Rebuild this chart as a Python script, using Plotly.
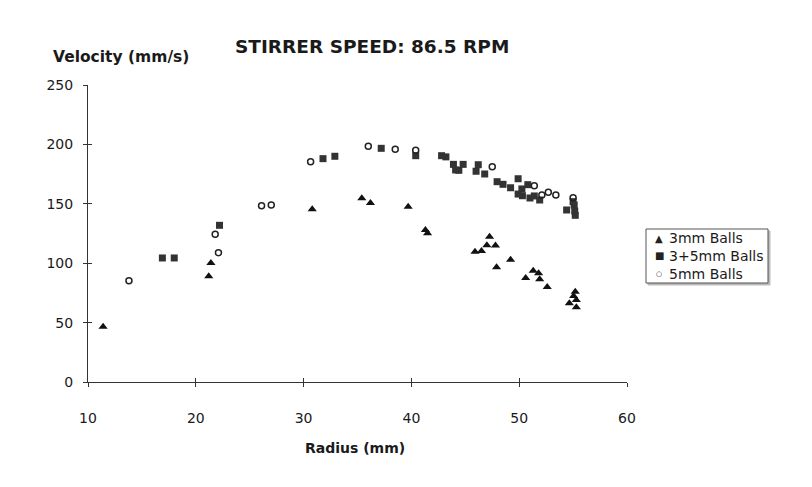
import plotly.graph_objects as go

# ---- data ----
tri_x = [11.4, 21.2, 21.4, 30.8, 35.4, 36.2, 39.7, 41.3, 41.5, 45.9, 46.5, 47.0, 47.25, 47.8,
         47.9, 49.2, 50.6, 51.3, 51.8, 51.9, 52.6, 54.65, 55.05, 55.2, 55.3, 55.3]
tri_y = [46.5, 89, 100.2, 145.4, 154.6, 150.7, 147.5, 128, 125.2, 109.7, 110.3, 115.2, 122.3, 114.9,
         96.5, 103, 87.5, 93.7, 91.5, 86.4, 80, 66.2, 72.4, 76, 69, 62.9]

sq_x = [16.9, 18.0, 22.2, 31.8, 32.9, 37.2, 40.4, 42.8, 43.2, 43.9, 44.1, 44.4, 44.8, 46.0,
        46.2, 46.8, 47.95, 48.5, 49.2, 49.9, 49.9, 50.25, 50.3, 50.8, 51.0, 51.4, 51.9, 54.4,
        55.0, 55.1, 55.15, 55.2]
sq_y = [104.4, 104.4, 131.9, 188, 190, 196.7, 190.5, 190.5, 189.5, 183.2, 178.5, 178.2, 183.2, 177.4,
        182.9, 175.1, 168.6, 166.4, 163.5, 171.1, 158.2, 162.5, 156.8, 166.1, 154.9, 156.6, 153.2, 144.8,
        151.8, 149, 143.9, 140.3]

circ_x = [13.8, 21.8, 22.1, 26.1, 27.0, 30.65, 36.0, 38.5, 40.4, 47.5, 51.4, 52.1, 52.7, 53.4, 55.0]
circ_y = [85.3, 124.3, 108.9, 148.4, 149, 185.4, 198.4, 196, 195, 181.2, 165.2, 157.4, 159.7, 157.4, 155.1]

series_names = ["3mm Balls", "3+5mm Balls", "5mm Balls"]
legend_glyphs = ["▲", "■", "○"]

x_ticks = [10, 20, 30, 40, 50, 60]
y_ticks = [0, 50, 100, 150, 200, 250]

FONT = "DejaVu Sans, Liberation Sans, Arial, sans-serif"
TXT = "#1a1a1a"

W, H = 812, 487
ML, MR, MT, MB = 88, 185, 85, 105
PW, PH = W - ML - MR, H - MT - MB


def px(xp):
    return (xp - ML) / PW


def py(yp):
    return (H - yp - MB) / PH


fig = go.Figure()
fig.add_trace(go.Scatter(x=tri_x, y=tri_y, mode="markers", name=series_names[0],
                         marker=dict(symbol="triangle-up", size=8, color="#111111")))
fig.add_trace(go.Scatter(x=sq_x, y=sq_y, mode="markers", name=series_names[1],
                         marker=dict(symbol="square", size=7, color="#333333")))
fig.add_trace(go.Scatter(x=circ_x, y=circ_y, mode="markers", name=series_names[2],
                         marker=dict(symbol="circle-open", size=6, color="#222222",
                                     line=dict(width=1.5))))
# invisible trace to activate the overlay axes (inner half of the crossing ticks)
fig.add_trace(go.Scatter(x=[10], y=[0], xaxis="x2", yaxis="y2", mode="markers",
                         marker=dict(opacity=0), showlegend=False, hoverinfo="skip"))

axis_common = dict(showgrid=False, zeroline=False, showline=True, linecolor="#333333",
                   linewidth=1, ticks="outside", ticklen=4, tickcolor="#333333",
                   tickfont=dict(family=FONT, size=14, color=TXT))

# ---- legend box drawn by hand (compact, like the original) ----
LX0, LX1, LY0, LY1 = 646, 768, 229, 283
shapes = [
    dict(type="rect", xref="paper", yref="paper",
         x0=px(LX0 + 2), x1=px(LX1 + 2), y0=py(LY1 + 2), y1=py(LY0 + 2),
         line=dict(color="#bbbbbb", width=1), fillcolor="#bbbbbb", layer="above"),
    dict(type="rect", xref="paper", yref="paper",
         x0=px(LX0), x1=px(LX1), y0=py(LY1), y1=py(LY0),
         line=dict(color="#555555", width=1), fillcolor="white", layer="above"),
]
legend_ann = []
glyph_sizes = [10, 10, 7]
for i, (nm, g) in enumerate(zip(series_names, legend_glyphs)):
    yc = 238 + 18 * i
    legend_ann.append(dict(text=g, x=px(659), y=py(yc), xanchor="center", yanchor="middle",
                           showarrow=False,
                           font=dict(size=glyph_sizes[i], family=FONT, color="#222222")))
    legend_ann.append(dict(text=nm, x=px(667), y=py(yc), xanchor="left", yanchor="middle",
                           showarrow=False, font=dict(size=14, family=FONT, color=TXT)))

fig.update_layout(
    width=W, height=H,
    margin=dict(l=ML, r=MR, t=MT, b=MB),
    paper_bgcolor="white", plot_bgcolor="white",
    font=dict(family=FONT, color=TXT),
    xaxis=dict(range=[10, 60], tickvals=x_ticks, ticklabelstandoff=19, **axis_common),
    yaxis=dict(range=[0, 250], tickvals=y_ticks, ticklabelstandoff=7, **axis_common),
    xaxis2=dict(range=[10, 60], tickvals=x_ticks, overlaying="x", showticklabels=False,
                showgrid=False, zeroline=False, ticks="inside", ticklen=4, tickcolor="#333333"),
    yaxis2=dict(range=[0, 250], tickvals=y_ticks, overlaying="y", showticklabels=False,
                showgrid=False, zeroline=False, ticks="inside", ticklen=4, tickcolor="#333333"),
    showlegend=False,
    shapes=shapes,
    annotations=[
        dict(text="<b>STIRRER SPEED: 86.5 RPM</b>", x=px(372), y=py(46),
             xanchor="center", yanchor="middle",
             showarrow=False, font=dict(size=18.5, family=FONT, color=TXT)),
        dict(text="<b>Velocity (mm/s)</b>", x=px(51), y=py(57),
             xanchor="left", yanchor="middle",
             showarrow=False, font=dict(size=15.5, family=FONT, color=TXT)),
        dict(text="<b>Radius (mm)</b>", x=px(355), y=py(448),
             xanchor="center", yanchor="middle",
             showarrow=False, font=dict(size=14, family=FONT, color=TXT)),
    ] + legend_ann,
)
for a in fig.layout.annotations:
    a.xref = "paper"
    a.yref = "paper"

fig.write_html("out.html")
